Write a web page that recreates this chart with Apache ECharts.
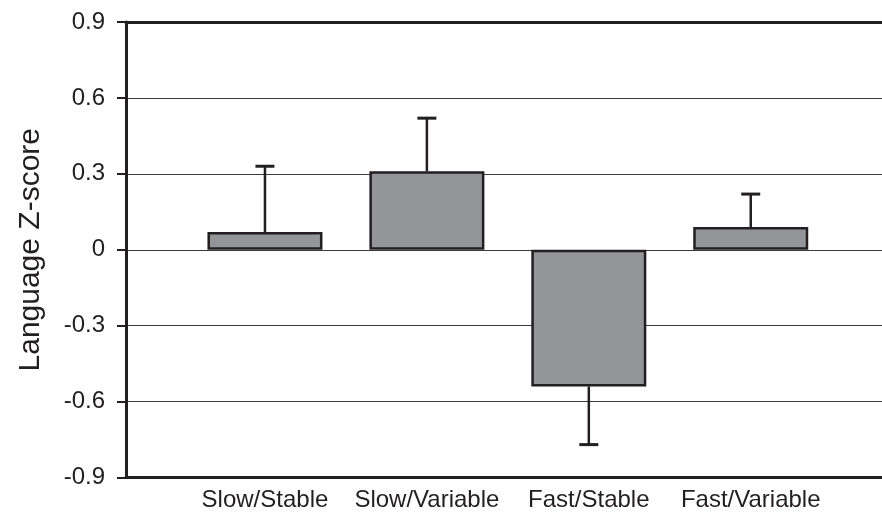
<!DOCTYPE html>
<html>
<head>
<meta charset="utf-8">
<script src="https://cdn.jsdelivr.net/npm/echarts@6/dist/echarts.min.js"></script>
<style>html,body{margin:0;padding:0;background:#fff}#c{width:882px;height:516px}</style>
</head>
<body>
<div id="c"></div>
<script>
const categories = ['Slow/Stable', 'Slow/Variable', 'Fast/Stable', 'Fast/Variable'];
const means = [0.07, 0.31, -0.54, 0.09];
const errors = [0.26, 0.21, 0.23, 0.13];
const yTicks = { min: -0.9, max: 0.9, interval: 0.3 };
const yTitle = 'Language Z-score';

const ink = '#231f20';
const font = '"Liberation Sans", Arial, sans-serif';
const chart = echarts.init(document.getElementById('c'), null, { renderer: 'canvas' });

function fmt(v) {
  if (Math.abs(v) < 1e-9) return '0';
  return (Math.round(v * 10) / 10).toFixed(1);
}

chart.setOption({
  animation: false,
  backgroundColor: '#fff',
  textStyle: { fontFamily: font },
  grid: [
    { left: 126, right: 0, top: 22, bottom: 38.5 },
    { left: 184, right: 50.3, top: 22, bottom: 38.5 }
  ],
  xAxis: [
    { gridIndex: 0, type: 'category', data: categories, position: 'bottom',
      axisLine: { show: true, onZero: false, lineStyle: { color: ink, width: 3 } },
      axisTick: { show: false }, axisLabel: { show: false }, splitLine: { show: false } },
    { gridIndex: 0, type: 'category', data: categories, position: 'top',
      axisLine: { show: true, onZero: false, lineStyle: { color: ink, width: 3 } },
      axisTick: { show: false }, axisLabel: { show: false }, splitLine: { show: false } },
    { gridIndex: 1, type: 'category', data: categories, position: 'bottom',
      axisLine: { show: false, onZero: false }, axisTick: { show: false },
      axisLabel: { show: true, color: ink, fontSize: 24, margin: 11, fontFamily: font, interval: 0 },
      splitLine: { show: false } }
  ],
  yAxis: [
    { gridIndex: 0, type: 'value', min: yTicks.min, max: yTicks.max, interval: yTicks.interval,
      name: yTitle, nameLocation: 'middle', nameGap: 80, nameRotate: 90,
      nameTextStyle: { color: ink, fontSize: 30, fontFamily: font },
      axisLine: { show: true, onZero: false, lineStyle: { color: ink, width: 3 } },
      axisTick: { show: true, inside: false, length: 9, lineStyle: { color: ink, width: 2 } },
      axisLabel: { color: ink, fontSize: 24, margin: 21, fontFamily: font, formatter: fmt },
      splitLine: { show: true, lineStyle: { color: '#3a3a3a', width: 1 } } },
    { gridIndex: 1, type: 'value', min: yTicks.min, max: yTicks.max, interval: yTicks.interval, show: false,
      splitLine: { show: false } }
  ],
  series: [
    { type: 'bar', xAxisIndex: 2, yAxisIndex: 1, data: means, barWidth: 115, z: 3,
      itemStyle: { color: '#939598', borderColor: ink, borderWidth: 2.5 } },
    { type: 'custom', xAxisIndex: 2, yAxisIndex: 1, z: 4,
      data: means.map((m, i) => [i, m, m + (m >= 0 ? errors[i] : -errors[i])]),
      renderItem: function (params, api) {
        const i = api.value(0);
        const a = api.coord([i, api.value(1)]);
        const b = api.coord([i, api.value(2)]);
        const half = 9.5;
        const st = { stroke: ink, lineWidth: 2.5 };
        return { type: 'group', children: [
          { type: 'line', shape: { x1: a[0], y1: a[1], x2: b[0], y2: b[1] }, style: st },
          { type: 'line', shape: { x1: b[0] - half, y1: b[1], x2: b[0] + half, y2: b[1] }, style: { stroke: ink, lineWidth: 3 } }
        ] };
      } }
  ]
});
</script>
</body>
</html>
